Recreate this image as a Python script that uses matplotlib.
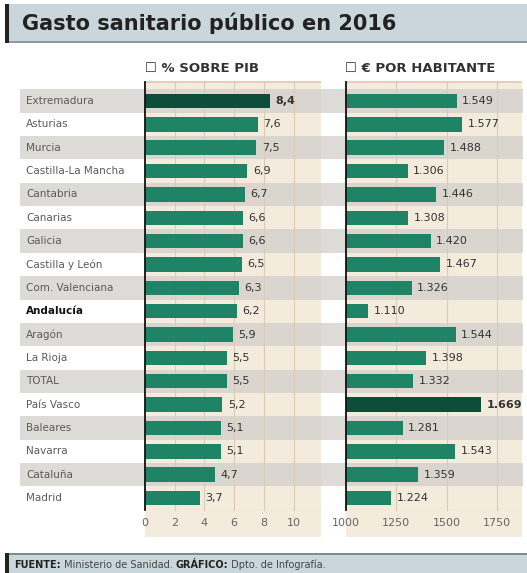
import matplotlib
matplotlib.use("Agg")
import matplotlib.pyplot as plt
from matplotlib.patches import Rectangle

# datos
regiones = ["Extremadura", "Asturias", "Murcia", "Castilla-La Mancha", "Cantabria",
            "Canarias", "Galicia", "Castilla y León", "Com. Valenciana", "Andalucía",
            "Aragón", "La Rioja", "TOTAL", "País Vasco", "Baleares", "Navarra",
            "Cataluña", "Madrid"]
pct_pib = [8.4, 7.6, 7.5, 6.9, 6.7, 6.6, 6.6, 6.5, 6.3, 6.2, 5.9, 5.5, 5.5, 5.2, 5.1, 5.1, 4.7, 3.7]
eur_hab = [1549, 1577, 1488, 1306, 1446, 1308, 1420, 1467, 1326, 1110, 1544, 1398, 1332,
           1669, 1281, 1543, 1359, 1224]
ticks_pib = [0, 2, 4, 6, 8, 10]
ticks_eur = [1000, 1250, 1500, 1750]
max_pib = "Extremadura"
max_eur = "País Vasco"

W, H = 527, 573
VERDE = "#1f8466"
VERDE_OSC = "#0e4d3a"
BEIGE = "#f3ebdc"
GRIS = "#d2d0cb"

fig = plt.figure(figsize=(W / 100, H / 100), dpi=100)
fig.patch.set_facecolor("white")


def rect_px(x0, y0, x1, y1, **kw):
    r = Rectangle((x0 / W, 1 - y1 / H), (x1 - x0) / W, (y1 - y0) / H,
                  transform=fig.transFigure, **kw)
    fig.add_artist(r)
    return r


def axes_px(x0, y0, x1, y1):
    return fig.add_axes([x0 / W, 1 - y1 / H, (x1 - x0) / W, (y1 - y0) / H])


# cabecera
rect_px(5, 4, W, 42, facecolor="#c9d6dc", edgecolor="none", zorder=0.5)
rect_px(5, 41, W, 43, facecolor="#8e9ca2", edgecolor="none", zorder=0.5)
rect_px(5, 4, 9, 43, facecolor="#222222", edgecolor="none", zorder=0.6)
fig.text(22 / W, 1 - 23 / H, "Gasto sanitario público en 2016", fontsize=15,
         fontweight="bold", color="#222222", va="center", ha="left")

# pie
rect_px(5, 554, W, H, facecolor="#c9d6dc", edgecolor="none", zorder=0.5)
rect_px(5, 553, W, 555, facecolor="#7f8d93", edgecolor="none", zorder=0.5)
rect_px(5, 553, 9, H, facecolor="#222222", edgecolor="none", zorder=0.6)

# fondos de los paneles
top_panel, bot_panel = 82, 537
rect_px(145, top_panel, 321, bot_panel, facecolor=BEIGE, edgecolor="none", zorder=0.2)
rect_px(346, top_panel, 522, bot_panel, facecolor=BEIGE, edgecolor="none", zorder=0.2)
rect_px(145, top_panel - 1, 321, top_panel + 1, facecolor="#e6cbc0", edgecolor="none", zorder=0.3)
rect_px(346, top_panel - 1, 522, top_panel + 1, facecolor="#e6cbc0", edgecolor="none", zorder=0.3)

n = len(regiones)
y_top, y_bot = 89.3, 509.7
pos = list(range(n))

# bandas grises alternas
ax_bg = axes_px(20, y_top, 523, y_bot)
ax_bg.set_zorder(1)
ax_bg.patch.set_alpha(0)
ax_bg.set_ylim(n - 0.5, -0.5)
ax_bg.set_xlim(0, 1)
for i in pos:
    if i % 2 == 0:
        ax_bg.axhspan(i - 0.5, i + 0.5, color=GRIS, alpha=0.75, lw=0)
ax_bg.axis("off")

# etiquetas de filas
for i, r in enumerate(regiones):
    bold = r == "Andalucía"
    ax_bg.text(0.012, i, r, va="center", ha="left", fontsize=7.5,
               fontweight="bold" if bold else "normal",
               color="#111111" if bold else "#5a5a5a")


def panel(x0, x1, valores, xlim, ticks, destacado, fmt):
    ax = axes_px(x0, y_top, x1, y_bot)
    ax.set_zorder(2)
    ax.patch.set_alpha(0)
    ax.set_xlim(*xlim)
    ax.set_ylim(n - 0.5, -0.5)
    ext = (y_top - top_panel) / (y_bot - y_top)
    for t in ticks[1:]:
        ax.axvline(t, ymin=0, ymax=1 + ext, color="#dccbb4", lw=0.8, zorder=0, clip_on=False)
    ax.axhline(n - 0.5, color="#e0d4c2", lw=0.8, zorder=0)
    colores = [VERDE_OSC if r == destacado else VERDE for r in regiones]
    base = xlim[0]
    ax.barh(pos, [v - base for v in valores], left=base, height=0.62,
            color=colores, zorder=2)
    for i, v in enumerate(valores):
        ax.annotate(fmt(v), (v, i), xytext=(4, 0), textcoords="offset points",
                    va="center", ha="left", fontsize=8, color="#333333",
                    fontweight="bold" if regiones[i] == destacado else "normal")
    ax.axvline(xlim[0], ymin=0, ymax=1 + ext, color="#111111", lw=1.3, zorder=3, clip_on=False)
    for s in ax.spines.values():
        s.set_visible(False)
    ax.set_yticks([])
    ax.set_xticks(ticks)
    ax.set_xticklabels([str(t) for t in ticks])
    ax.tick_params(axis="x", length=0, pad=6, labelsize=8, labelcolor="#666666")
    return ax


panel(145, 321, pct_pib, (0, 11.85), ticks_pib, max_pib,
      lambda v: f"{v:.1f}".replace(".", ","))
panel(346, 522, eur_hab, (1000, 1874), ticks_eur, max_eur,
      lambda v: f"{v:,}".replace(",", "."))

# títulos de columnas
fig.text(145 / W, 1 - 68 / H, "\u2610 % SOBRE PIB", fontsize=9.5, fontweight="bold",
         color="#333333", va="center", ha="left")
fig.text(345 / W, 1 - 68 / H, "\u2610 € POR HABITANTE", fontsize=9.5, fontweight="bold",
         color="#333333", va="center", ha="left")

# texto del pie
renderer = fig.canvas.get_renderer()
x = 14
partes = [("FUENTE:", "bold"), (" Ministerio de Sanidad. ", "normal"),
          ("GRÁFICO:", "bold"), (" Dpto. de Infografía.", "normal")]
for txt, peso in partes:
    t = fig.text(x / W, 1 - 565 / H, txt, fontsize=7, fontweight=peso,
                 color="#222222" if peso == "bold" else "#444444", va="center", ha="left",
                 zorder=2)
    x += t.get_window_extent(renderer).width

fig.savefig("out.png", dpi=100)
